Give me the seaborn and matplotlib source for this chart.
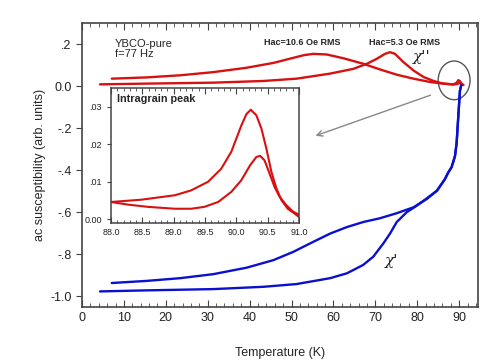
import numpy as np
import pandas as pd
import matplotlib
matplotlib.use("Agg")
import matplotlib.pyplot as plt
from matplotlib.patches import Ellipse
from matplotlib.ticker import MultipleLocator, FixedLocator
import seaborn as sns

# chi'' (imaginary part), Hac = 10.6 Oe RMS
t_im_hi = [7.1, 15.4, 23.4, 31.3, 39.3, 45.7, 50.4, 53.0, 55.2, 58.4, 62.4, 67.1, 71.1, 75.1, 79.1,
           83.1, 86.2, 88.6, 89.4, 89.8, 90.2, 90.6, 91.0]
chi_im_hi = [0.036, 0.042, 0.052, 0.067, 0.088, 0.111, 0.135, 0.148, 0.154, 0.151, 0.133, 0.107, 0.08,
             0.055, 0.036, 0.02, 0.0125, 0.009, 0.016, 0.029, 0.024, 0.01, 0.006]
# chi'' Hac = 5.3 Oe RMS
t_im_lo = [4.3, 15.4, 31.3, 43.3, 51.2, 59.2, 64.8, 68.0, 70.3, 72.3, 73.5, 74.7, 76.7, 79.1, 81.5,
           83.9, 86.2, 88.6, 89.6, 90.3, 90.7, 91.0]
chi_im_lo = [0.009, 0.0125, 0.017, 0.025, 0.036, 0.06, 0.083, 0.107, 0.13, 0.154, 0.162, 0.154, 0.115,
             0.075, 0.044, 0.025, 0.0125, 0.008, 0.011, 0.017, 0.01, 0.006]

# chi' (real part)
t_re_hi = [7.1, 15.4, 23.4, 31.3, 39.3, 45.7, 50.4, 55.2, 59.2, 63.2, 67.1, 71.1, 75.1, 79.1, 82.3,
           84.7, 86.6, 87.4, 88.2, 89.0, 89.4, 89.7, 90.0, 90.2, 90.5]
chi_re_hi = [-0.936, -0.926, -0.913, -0.894, -0.863, -0.827, -0.788, -0.74, -0.701, -0.67, -0.646,
             -0.628, -0.604, -0.576, -0.536, -0.497, -0.442, -0.41, -0.385, -0.333, -0.27, -0.174,
             -0.08, -0.02, 0.005]
t_re_lo = [4.3, 15.4, 31.3, 43.3, 51.2, 59.2, 63.2, 67.1, 69.5, 71.9, 73.5, 75.1, 77.5, 79.9, 82.3,
           84.7, 86.6, 87.4, 88.2, 89.0, 89.4, 89.7, 90.0, 90.2, 90.5]
chi_re_lo = [-0.976, -0.971, -0.965, -0.954, -0.941, -0.913, -0.89, -0.85, -0.811, -0.748, -0.701,
             -0.646, -0.599, -0.568, -0.533, -0.497, -0.442, -0.41, -0.385, -0.333, -0.27, -0.174,
             -0.08, -0.02, 0.005]

# inset: intragrain peak
t_in_hi = [88.0, 88.48, 89.02, 89.28, 89.55, 89.76, 89.92, 90.08, 90.16, 90.23, 90.32, 90.4, 90.48,
           90.56, 90.64, 90.72, 90.82, 90.93, 91.0]
peak_hi = [0.0046, 0.0052, 0.0064, 0.0077, 0.01, 0.0135, 0.018, 0.025, 0.028, 0.0292, 0.0277, 0.0242,
           0.0188, 0.0126, 0.0082, 0.0051, 0.0028, 0.0015, 0.0006]
t_in_lo = [88.0, 88.27, 88.59, 89.02, 89.28, 89.49, 89.71, 89.92, 90.08, 90.22, 90.32, 90.38, 90.45,
           90.53, 90.61, 90.69, 90.8, 90.9, 91.0]
peak_lo = [0.0046, 0.0039, 0.0033, 0.0028, 0.0028, 0.0033, 0.0046, 0.0073, 0.0104, 0.0144, 0.0166,
           0.0169, 0.0157, 0.0122, 0.0086, 0.006, 0.0037, 0.0021, 0.0012]

red = "#d81010"
blue = "#0a10d0"
spine_c = "#444444"

sns.set_style("ticks")
plt.rcParams["font.family"] = ["Liberation Sans", "DejaVu Sans"]

fig = plt.figure(figsize=(5, 3.62), dpi=100)
ax = fig.add_axes([0.164, 0.152, 0.792, 0.784])

for xs, ys, c in [(t_im_hi, chi_im_hi, red), (t_im_lo, chi_im_lo, red),
                  (t_re_hi, chi_re_hi, blue), (t_re_lo, chi_re_lo, blue)]:
    df = pd.DataFrame({"T": xs, "chi": ys})
    sns.lineplot(data=df, x="T", y="chi", sort=False, estimator=None, color=c, lw=1.7, ax=ax)

ax.set_xlim(0, 94.5)
ax.set_ylim(-1.05, 0.3)
ax.xaxis.set_major_locator(MultipleLocator(10))
ax.xaxis.set_minor_locator(MultipleLocator(2))
yt = [-1.0, -0.8, -0.6, -0.4, -0.2, 0.0, 0.2]
ax.yaxis.set_major_locator(FixedLocator(yt))
ax.set_yticklabels(["-1.0", "-.8", "-.6", "-.4", "-.2", "0.0", ".2"])
ax.tick_params(axis="x", which="both", direction="in", top=True, labelsize=9, colors=spine_c, labelcolor="#222")
ax.tick_params(axis="x", which="major", length=5)
ax.tick_params(axis="x", which="minor", length=3)
ax.tick_params(axis="y", direction="out", length=4, labelsize=9, colors=spine_c, labelcolor="#222")
for s in ax.spines.values():
    s.set_color(spine_c)
    s.set_linewidth(1.2)
ax.set_xlabel("Temperature (K)", fontsize=9, labelpad=17)
ax.set_ylabel("ac susceptibility (arb. units)", fontsize=9, labelpad=3)

ax.text(7.9, 0.225, "YBCO-pure\nf=77 Hz", fontsize=8, va="top", ha="left", linespacing=1.0)
ax.text(43.4, 0.21, "Hac=10.6 Oe RMS", fontsize=6.5, fontweight="bold", va="center")
ax.text(68.5, 0.21, "Hac=5.3 Oe RMS", fontsize=6.5, fontweight="bold", va="center")
ax.text(81.1, 0.137, "χ''", fontsize=11, family="DejaVu Serif", style="italic", ha="center", va="center")
ax.text(74.0, -0.83, "χ'", fontsize=11, family="DejaVu Serif", style="italic", ha="center", va="center")

ax.add_patch(Ellipse((88.8, 0.028), 7.6, 0.184, fill=False, edgecolor="#555555", lw=1))
ax.annotate("", xy=(55.1, -0.24), xytext=(83.8, -0.038),
            arrowprops=dict(arrowstyle="->", color="#888888", lw=1))

# inset
ins = fig.add_axes([0.222, 0.384, 0.376, 0.373])
for xs, ys in [(t_in_hi, peak_hi), (t_in_lo, peak_lo)]:
    df = pd.DataFrame({"T": xs, "chi": ys})
    sns.lineplot(data=df, x="T", y="chi", sort=False, estimator=None, color=red, lw=1.5, ax=ins)
ins.set_xlim(88, 91)
ins.set_ylim(-0.001, 0.035)
ins.xaxis.set_major_locator(MultipleLocator(0.5))
ins.xaxis.set_minor_locator(MultipleLocator(0.1))
ins.set_xticklabels([f"{v:.1f}" for v in ins.get_xticks()])
ins.yaxis.set_major_locator(FixedLocator([0.0, 0.01, 0.02, 0.03]))
ins.set_yticklabels(["0.00", ".01", ".02", ".03"])
ins.tick_params(axis="x", which="both", direction="in", top=True, labelsize=6.5, colors=spine_c, labelcolor="#222")
ins.tick_params(axis="x", which="major", length=4)
ins.tick_params(axis="x", which="minor", length=2.5)
ins.tick_params(axis="y", direction="out", length=3, labelsize=6.5, colors=spine_c, labelcolor="#222")
for s in ins.spines.values():
    s.set_color(spine_c)
    s.set_linewidth(1.1)
ins.set_xlabel("")
ins.set_ylabel("")
ins.text(0.03, 0.92, "Intragrain peak", transform=ins.transAxes, fontsize=7.8, fontweight="bold", va="center")

fig.savefig("out.png", dpi=100)
